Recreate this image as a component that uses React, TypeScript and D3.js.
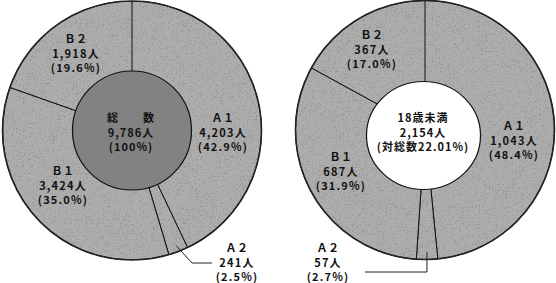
import React from "react";
import * as d3 from "d3";

// ---- data ----
const categories = ["Ａ１", "Ａ２", "Ｂ１", "Ｂ２"];
const totalValues = [4203, 241, 3424, 1918];
const totalPercents = ["42.9%", "2.5%", "35.0%", "19.6%"];
const minorValues = [1043, 57, 687, 367];
const minorPercents = ["48.4%", "2.7%", "31.9%", "17.0%"];
const totalCenterLines = ["総　　数", "9,786人", "(100%)"];
const minorCenterLines = ["18歳未満", "2,154人", "(対総数22.01%)"];

// ---- layout ----
const W = 556;
const H = 283;
const FONT = "'Noto Sans CJK JP', 'Noto Sans', sans-serif";
const FS = 11;
const LINE = 14.5;

type Spec = {
  cx: number;
  cy: number;
  r: number;
  inner: { cx: number; cy: number; rx: number; ry: number; fill: string };
  values: number[];
  percents: string[];
  center: string[];
  centerPos: [number, number];
  labelPos: [number, number][];
  leader: { r: number; pts: [number | "x", number][] };
};

const fmt = d3.format(",");

const specs: Spec[] = [
  {
    cx: 132,
    cy: 130.5,
    r: 129.5,
    inner: { cx: 132, cy: 130.5, rx: 59.5, ry: 59.5, fill: "#828282" },
    values: totalValues,
    percents: totalPercents,
    center: totalCenterLines,
    centerPos: [131, 117],
    labelPos: [
      [223, 117],
      [237, 247],
      [63, 170],
      [76, 38],
    ],
    leader: { r: 0.95, pts: [[192, 263], [212, 263]] },
  },
  {
    cx: 425,
    cy: 130,
    r: 129.5,
    inner: { cx: 423.5, cy: 135.5, rx: 57, ry: 54, fill: "#ffffff" },
    values: minorValues,
    percents: minorPercents,
    center: minorCenterLines,
    centerPos: [423, 117],
    labelPos: [
      [514, 125],
      [328, 247],
      [341, 156],
      [372, 34],
    ],
    leader: { r: 0.945, pts: [["x", 272], [365, 272]] },
  },
];

function Donut({ s }: { s: Spec }) {
  const pie = d3
    .pie<number>()
    .sort(null)
    .value((d) => d)
    .startAngle(0)
    .endAngle(2 * Math.PI);
  const arcs = pie(s.values);
  const arc = d3.arc<d3.PieArcDatum<number>>().innerRadius(0).outerRadius(s.r);

  const a2 = arcs[1];
  const mid = (a2.startAngle + a2.endAngle) / 2;
  const sx = s.cx + s.r * s.leader.r * Math.sin(mid);
  const sy = s.cy - s.r * s.leader.r * Math.cos(mid);
  const pts: [number, number][] = [[sx, sy]];
  s.leader.pts.forEach((p) => {
    pts.push([p[0] === "x" ? sx : (p[0] as number), p[1]]);
  });
  const line = d3.line()(pts) || "";

  const textProps = {
    textAnchor: "middle" as const,
    dominantBaseline: "central" as const,
    fontFamily: FONT,
    fontSize: FS,
    fontWeight: "bold" as const,
    fill: "#111",
  };

  return (
    <g>
      <g transform={`translate(${s.cx},${s.cy})`}>
        {arcs.map((a, i) => (
          <path
            key={i}
            d={arc(a) || ""}
            fill="#acacac"
            stroke="#111"
            strokeWidth={1}
            filter="url(#grain)"
          />
        ))}
        <circle r={s.r} fill="none" stroke="#222" strokeWidth={1.6} />
      </g>
      <ellipse
        cx={s.inner.cx}
        cy={s.inner.cy}
        rx={s.inner.rx}
        ry={s.inner.ry}
        fill={s.inner.fill}
        stroke="#111"
        strokeWidth={1.2}
      />
      <path d={line} fill="none" stroke="#222" strokeWidth={1} />
      {s.center.map((t, j) => (
        <text
          key={j}
          x={s.centerPos[0]}
          y={s.centerPos[1] + j * LINE}
          letterSpacing={1}
          {...textProps}
        >
          {t}
        </text>
      ))}
      {categories.map((c, i) => {
        const lines = [c, `${fmt(s.values[i])}人`, `(${s.percents[i]})`];
        return (
          <g key={c}>
            {lines.map((t, j) => (
              <text
                key={j}
                x={s.labelPos[i][0]}
                y={s.labelPos[i][1] + j * LINE}
                letterSpacing={j === 0 ? 0.5 : 1.2}
                {...textProps}
              >
                {t}
              </text>
            ))}
          </g>
        );
      })}
    </g>
  );
}

export default function App() {
  return (
    <svg
      width={W}
      height={H}
      viewBox={`0 0 ${W} ${H}`}
      style={{ position: "absolute", left: 0, top: 0, background: "#fff" }}
    >
      <defs>
        <filter id="grain" x="0" y="0" width="100%" height="100%">
          <feTurbulence type="fractalNoise" baseFrequency="1.3" numOctaves={1} seed={3} result="n" />
          <feColorMatrix
            in="n"
            type="matrix"
            values="0 0 0 0 0  0 0 0 0 0  0 0 0 0 0  0 0 0 -16 6"
            result="dots"
          />
          <feComposite in="dots" in2="SourceGraphic" operator="in" result="d2" />
          <feComponentTransfer in="d2" result="d3">
            <feFuncA type="linear" slope={0.3} />
          </feComponentTransfer>
          <feMerge>
            <feMergeNode in="SourceGraphic" />
            <feMergeNode in="d3" />
          </feMerge>
        </filter>
      </defs>
      <rect width={W} height={H} fill="#fff" />
      {specs.map((s, i) => (
        <Donut key={i} s={s} />
      ))}
    </svg>
  );
}
